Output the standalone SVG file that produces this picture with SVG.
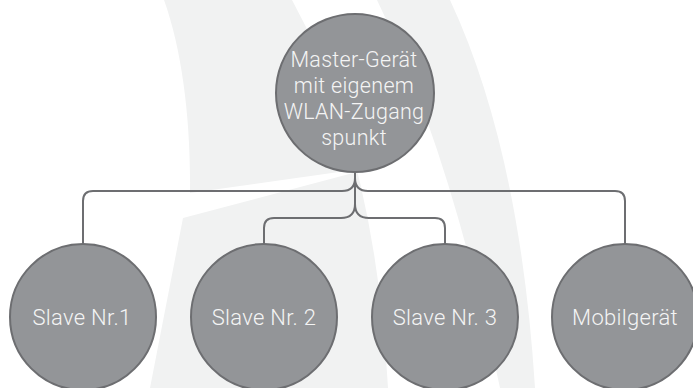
<svg xmlns="http://www.w3.org/2000/svg" width="693" height="388" viewBox="0 0 693 388">
  <style>
    .bg { fill: #f1f2f2; stroke: none; }
    .node circle { fill: #939598; stroke: #6d6e71; stroke-width: 2; }
    .node text { fill: #f4f4f4; font-family: Roboto, "Liberation Sans", Arial, sans-serif; font-weight: 300; text-anchor: middle; letter-spacing: 0.3px; }
    .slave text { font-size: 22px; }
    .master text { font-size: 21.5px; }
    #connectors path { fill: none; stroke: #6d6e71; stroke-width: 2; }
  </style>
  <rect width="693" height="388" fill="#ffffff"/>
  <g id="background">
    <path class="bg" d="M164,0 L292,0 Q375,150 388,388 L150,388 L183,218 L353,173 L353,170 L190,193 C191,120 182,50 164,0 Z"/>
    <path class="bg" d="M377,0 L450,0 Q520,150 535,388 L500,388 Q450,150 377,0 Z"/>
  </g>
  <g id="connectors">
    <path d="M355,173 V204"/>
    <path d="M355,178 Q355,191 342,191 H93 Q83,191 83,201 V243"/>
    <path d="M355,178 Q355,191 368,191 H615 Q625,191 625,201 V243"/>
    <path d="M355,204 Q355,218 341,218 H274 Q264,218 264,228 V243"/>
    <path d="M355,204 Q355,218 369,218 H435 Q445,218 445,228 V243"/>
  </g>
  <g id="master" class="node master">
    <circle cx="355" cy="93" r="79"/>
    <text x="354" y="67">Master-Gerät</text>
    <text x="354" y="93">mit eigenem</text>
    <text x="354" y="119">WLAN-Zugang</text>
    <text x="354" y="145">spunkt</text>
  </g>
  <g id="slave1" class="node slave">
    <circle cx="83" cy="317" r="73"/>
    <text x="82" y="325">Slave Nr.1</text>
  </g>
  <g id="slave2" class="node slave">
    <circle cx="264" cy="317" r="73"/>
    <text x="264" y="325">Slave Nr. 2</text>
  </g>
  <g id="slave3" class="node slave">
    <circle cx="445" cy="317" r="73"/>
    <text x="445" y="325">Slave Nr. 3</text>
  </g>
  <g id="mobile" class="node slave">
    <circle cx="625" cy="317" r="73"/>
    <text x="625" y="325">Mobilgerät</text>
  </g>
</svg>
